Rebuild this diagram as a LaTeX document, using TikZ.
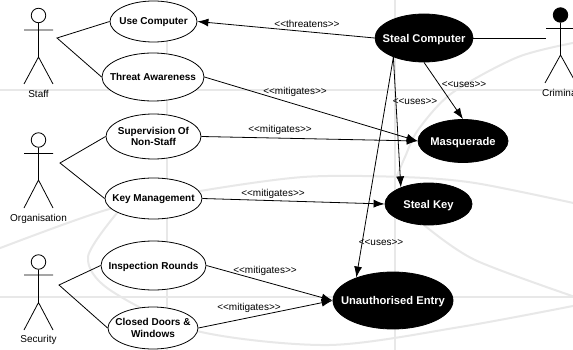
\documentclass[tikz,border=0pt]{standalone}
\usepackage{fontspec}
\setmainfont{Liberation Sans}
\usetikzlibrary{shapes.geometric,arrows.meta}
\definecolor{watermark}{HTML}{E8E8E8}
\tikzset{
    backline/.style={watermark,line width=2pt},
    usecase/.style={ellipse,draw=black,fill=white,line width=0.8pt,inner sep=0pt},
    threatcase/.style={ellipse,draw=black,fill=black,line width=0.8pt,inner sep=0pt},
    casetext/.style={font=\fontsize{10}{11.6}\selectfont\bfseries,align=center,inner sep=0pt},
    oneline/.style={casetext,text depth=0pt},
    threattext/.style={font=\fontsize{11.2}{13}\selectfont\bfseries,text=white,inner sep=0pt,text depth=0pt},
    stereo/.style={font=\fontsize{10}{12}\selectfont,inner sep=0pt,text depth=0pt},
    actorname/.style={font=\fontsize{10}{12}\selectfont,inner sep=0pt,text depth=0pt},
    head/.style={circle,draw=black,line width=0.8pt,minimum size=14.5pt,inner sep=0pt},
    limb/.style={line width=0.8pt},
    link/.style={line width=0.8pt},
    relation/.style={line width=0.8pt,-{Latex[length=11pt,width=8pt]}}
}
\begin{document}
\begin{tikzpicture}[x=1pt,y=-1pt]
    \clip (0,0) rectangle (573,350);
    \fill[white] (0,0) rectangle (573,350);

    % watermark behind the diagram
    \draw[backline] (0,90)--(573,90);
    \draw[backline] (0,297)--(573,297);
    \draw[backline] (167,0)--(167,350);
    \draw[backline] (395,0)--(395,350);
    \draw[backline] plot[smooth] coordinates {(-5,250) (106,210) (194,192) (303,177) (402,177) (475,183) (578,204)};
    \draw[backline] plot[smooth] coordinates {(117,213) (88,257) (110,290) (197,331) (329,345) (460,327) (578,305)};
    \draw[backline] plot[smooth] coordinates {(424,225) (475,260) (578,298)};
    \draw[backline] plot[smooth] coordinates {(396,178) (405,157) (418,130) (452,93) (518,57) (578,42)};

    % use cases on the left
    \node[usecase,minimum width=87pt,minimum height=41pt,label={[oneline]center:Use Computer}] (usecomp) at (153.5,21.5) {};
    \node[usecase,minimum width=102pt,minimum height=48pt,label={[oneline]center:Threat Awareness}] (awareness) at (153,77) {};
    \node[usecase,minimum width=95pt,minimum height=45pt,label={[casetext]center:Supervision Of\\Non-Staff}] (supervision) at (153.5,136.5) {};
    \node[usecase,minimum width=97pt,minimum height=41pt,label={[oneline]center:Key Management}] (keymgmt) at (153.5,198.5) {};
    \node[usecase,minimum width=105pt,minimum height=49pt,label={[oneline]center:Inspection Rounds}] (inspection) at (153.5,265.5) {};
    \node[usecase,minimum width=90pt,minimum height=42pt,label={[casetext]center:Closed Doors \&\\Windows}] (doors) at (153,328) {};

    % threats on the right
    \node[threatcase,minimum width=98pt,minimum height=48pt,label={[threattext]center:Steal Computer}] (stealcomp) at (424,38) {};
    \node[threatcase,minimum width=90pt,minimum height=43pt,label={[threattext]center:Masquerade}] (masquerade) at (463,141) {};
    \node[threatcase,minimum width=87pt,minimum height=42pt,label={[threattext]center:Steal Key}] (stealkey) at (428.5,204) {};
    \node[threatcase,minimum width=120pt,minimum height=57pt,label={[threattext]center:Unauthorised Entry}] (entry) at (393,300.5) {};

    % actor staff
    \node[head] (staffhead) at (38.5,15.5) {};
    \draw[limb] (staffhead.south)--(38.5,57) (24,30)--(53,30) (24,84)--(38.5,57)--(53,84);
    \node[actorname] (staffname) at (38.5,94) {Staff};
    \coordinate (stafflink) at (57,38);

    % actor organisation
    \node[head] (orghead) at (38.5,140) {};
    \draw[limb] (orghead.south)--(38.5,180) (24,153.5)--(53,153.5) (24,208)--(38.5,180)--(53,208);
    \node[actorname] (orgname) at (38.5,218) {Organisation};
    \coordinate (orglink) at (60,163);

    % actor security
    \node[head] (sechead) at (38.5,262) {};
    \draw[limb] (sechead.south)--(38.5,302.5) (24,275)--(53,275) (24,330)--(38.5,302.5)--(53,330);
    \node[actorname] (secname) at (38.5,339) {Security};
    \coordinate (seclink) at (59,285);

    % actor criminal
    \node[head,fill=black] (crimhead) at (560.5,15) {};
    \draw[limb] (crimhead.south)--(560.5,55) (546,28.5)--(575,28.5) (545,83)--(560.5,55)--(576,83);
    \node[actorname] (crimname) at (560.5,93) {Criminal};
    \coordinate (crimlink) at (546,38);

    % actors to use cases
    \draw[link] (usecomp.west)--(stafflink)--(awareness.west);
    \draw[link] (supervision.west)--(orglink)--(keymgmt.west);
    \draw[link] (inspection.west)--(seclink)--(doors.west);
    \draw[link] (stealcomp.east)--(crimlink);

    % relations between use cases
    \draw[relation] (stealcomp.west)--(usecomp.east);
    \draw[relation] (awareness.east)--(masquerade.west);
    \draw[relation] (supervision.east)--(masquerade.west);
    \draw[relation] (keymgmt.east)--(stealkey.west);
    \draw[relation] (inspection.east)--(entry.west);
    \draw[relation] (doors.east)--(entry.west);
    \draw[relation] (stealcomp.south)--(masquerade.north);
    \draw[relation] (stealcomp.-148)--(stealkey.149);
    \draw[relation] (stealcomp.-148)--(entry.148);

    % stereotypes
    \node[stereo] (threatens) at (307,24) {<{}<threatens>{}>};
    \node[stereo] (mitigateone) at (295,91) {<{}<mitigates>{}>};
    \node[stereo] (mitigatetwo) at (280,129) {<{}<mitigates>{}>};
    \node[stereo] (mitigatethree) at (273,193) {<{}<mitigates>{}>};
    \node[stereo] (mitigatefour) at (265,270) {<{}<mitigates>{}>};
    \node[stereo] (mitigatefive) at (249,307) {<{}<mitigates>{}>};
    \node[stereo] (usesone) at (464,85) {<{}<uses>{}>};
    \node[stereo] (usestwo) at (415,102) {<{}<uses>{}>};
    \node[stereo] (usesthree) at (381,243) {<{}<uses>{}>};
\end{tikzpicture}
\end{document}
